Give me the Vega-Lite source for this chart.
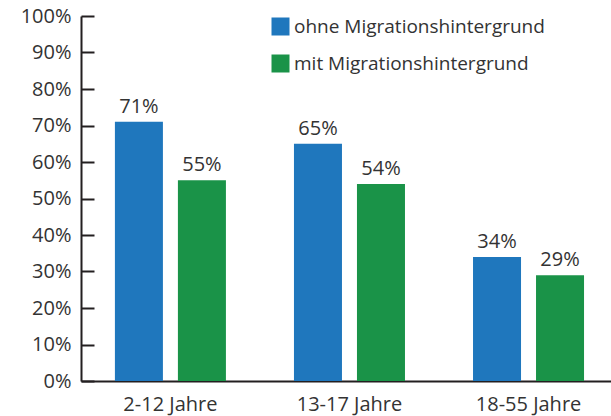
{
  "$schema": "https://vega.github.io/schema/vega-lite/v6.json",
  "autosize": {"type": "none"},
  "width": 530,
  "height": 365,
  "padding": {"left": 81, "top": 16, "right": 0, "bottom": 35},
  "background": "white",
  "config": {
    "view": {"stroke": null},
    "font": "Open Sans",
    "text": {"font": "Open Sans"}
  },
  "data": {
    "values": [
      {"Alter": "2-12 Jahre", "Gruppe": "ohne Migrationshintergrund", "Anteil": 0.71},
      {"Alter": "2-12 Jahre", "Gruppe": "mit Migrationshintergrund", "Anteil": 0.55},
      {"Alter": "13-17 Jahre", "Gruppe": "ohne Migrationshintergrund", "Anteil": 0.65},
      {"Alter": "13-17 Jahre", "Gruppe": "mit Migrationshintergrund", "Anteil": 0.54},
      {"Alter": "18-55 Jahre", "Gruppe": "ohne Migrationshintergrund", "Anteil": 0.34},
      {"Alter": "18-55 Jahre", "Gruppe": "mit Migrationshintergrund", "Anteil": 0.29}
    ]
  },
  "encoding": {
    "x": {
      "field": "Alter", "type": "nominal", "sort": null,
      "scale": {"paddingInner": 0.38, "paddingOuter": 0.17, "align": 0.557},
      "axis": {
        "title": null, "labelAngle": 0, "ticks": false,
        "domainColor": "#231f20", "domainWidth": 2,
        "labelFont": "Open Sans", "labelFontSize": 20, "labelColor": "#333333",
        "labelPadding": 13
      }
    },
    "xOffset": {
      "field": "Gruppe", "type": "nominal", "sort": ["ohne Migrationshintergrund", "mit Migrationshintergrund"],
      "scale": {"paddingInner": 0.238, "paddingOuter": 0}
    },
    "y": {
      "field": "Anteil", "type": "quantitative",
      "scale": {"domain": [0, 1], "nice": false},
      "axis": {
        "title": null, "format": ".0%", "values": [0, 0.1, 0.2, 0.3, 0.4, 0.5, 0.6, 0.7, 0.8, 0.9, 1],
        "grid": false, "tickSize": -13, "tickColor": "#231f20", "tickWidth": 2,
        "domainColor": "#231f20", "domainWidth": 2,
        "labelFont": "Open Sans", "labelFontSize": 20, "labelColor": "#333333",
        "labelPadding": 23
      }
    }
  },
  "layer": [
    {
      "mark": {"type": "bar"},
      "encoding": {
        "color": {
          "field": "Gruppe", "type": "nominal",
          "sort": ["ohne Migrationshintergrund", "mit Migrationshintergrund"],
          "scale": {"domain": ["ohne Migrationshintergrund", "mit Migrationshintergrund"], "range": ["#1f77bd", "#1a9348"]},
          "legend": {
            "title": null, "orient": "none", "legendX": 190, "legendY": 1,
            "symbolType": "square", "symbolSize": 324, "symbolStrokeWidth": 0,
            "labelFont": "Open Sans", "labelFontSize": 19, "labelColor": "#333333",
            "labelOffset": 4, "rowPadding": 17, "labelLimit": 0
          }
        }
      }
    },
    {
      "mark": {"type": "text", "baseline": "alphabetic", "dy": -9, "fontSize": 20, "color": "#333333", "font": "Open Sans"},
      "encoding": {
        "text": {"field": "Anteil", "type": "quantitative", "format": ".0%"}
      }
    }
  ]
}
